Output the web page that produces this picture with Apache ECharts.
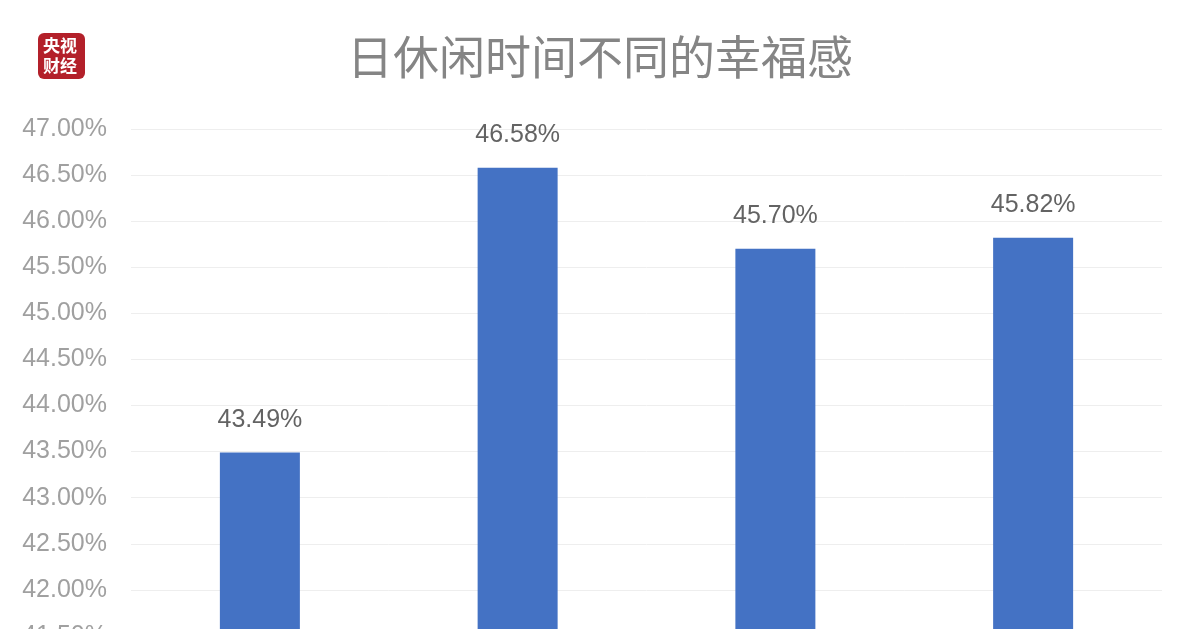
<!DOCTYPE html>
<html>
<head>
<meta charset="utf-8">
<script src="https://cdn.jsdelivr.net/npm/echarts@6/dist/echarts.min.js"></script>
<style>
html,body{margin:0;padding:0;background:#fff;overflow:hidden;}
#c{width:1200px;height:800px;}
</style>
</head>
<body>
<div id="c"></div>
<script>
const title = '日休闲时间不同的幸福感';
const categories = ['1小时以下', '1-2小时', '2-3小时', '3小时以上'];
const values = [43.49, 46.58, 45.70, 45.82];
const yMin = 41.0, yMax = 47.0, yStep = 0.5;

const chart = echarts.init(document.getElementById('c'), null, {renderer: 'canvas'});
chart.setOption({
  backgroundColor: '#ffffff',
  animation: false,
  title: {
    text: title,
    left: 'center',
    top: 29,
    textStyle: {fontFamily: 'Noto Sans CJK SC', fontSize: 46, fontWeight: 'normal', color: '#858585'}
  },
  graphic: [
    {type: 'rect', left: 38, top: 33, shape: {width: 47, height: 46, r: 6}, style: {fill: '#b3202a'}},
    {type: 'text', left: 43, top: 36, style: {text: '央视\n财经', fill: '#ffffff', font: 'bold 17px "Noto Sans CJK SC"', lineHeight: 20}}
  ],
  grid: {left: 131, right: 38, top: 129, height: 553, containLabel: false},
  xAxis: {
    type: 'category',
    data: categories,
    axisLine: {lineStyle: {color: '#d9d9d9'}},
    axisTick: {show: false},
    axisLabel: {color: '#8c8c8c', fontSize: 22}
  },
  yAxis: {
    type: 'value',
    min: yMin, max: yMax, interval: yStep,
    axisLine: {show: false},
    axisTick: {show: false},
    splitLine: {lineStyle: {color: '#eeeeee', width: 1}},
    axisLabel: {
      margin: 24,
      color: '#a0a0a0',
      fontSize: 25,
      fontFamily: 'Liberation Sans',
      formatter: v => v.toFixed(2) + '%'
    }
  },
  series: [{
    type: 'bar',
    data: values,
    barWidth: 80,
    itemStyle: {color: '#4472c4'},
    label: {
      show: true,
      position: 'top',
      distance: 20,
      color: '#636363',
      fontSize: 25,
      fontFamily: 'Liberation Sans',
      formatter: p => p.value.toFixed(2) + '%'
    }
  }]
});
</script>
</body>
</html>
